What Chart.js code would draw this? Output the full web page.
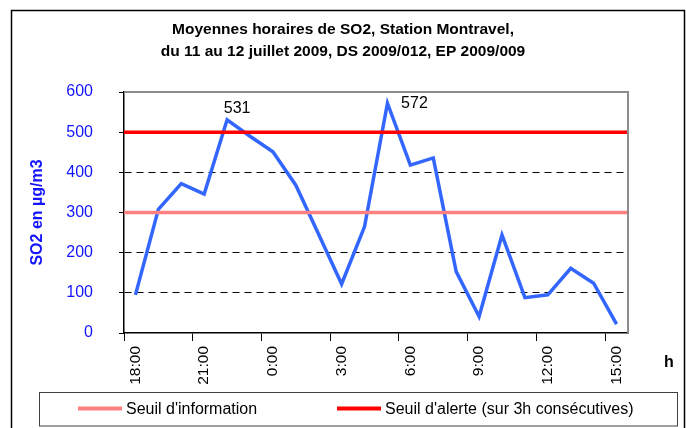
<!DOCTYPE html>
<html>
<head>
<meta charset="utf-8">
<script src="https://cdn.jsdelivr.net/npm/chart.js@4/dist/chart.umd.min.js"></script>
<style>
  html, body { margin: 0; padding: 0; background: #fff; }
  canvas { display: block; }
</style>
</head>
<body>
<canvas id="ch" width="686" height="428"></canvas>
<script>
// SO2 hourly averages, Montravel station — 11/12 July 2009
const hours = ['18:00', '19:00', '20:00', '21:00', '22:00', '23:00', '0:00', '1:00', '2:00', '3:00', '4:00',
               '5:00', '6:00', '7:00', '8:00', '9:00', '10:00', '11:00', '12:00', '13:00', '14:00', '15:00'];
const so2 = [95, 308, 372, 346, 531, 490, 451, 368, 245, 122, 265, 572, 418, 436, 153, 41, 244, 88, 95, 161, 124, 22];
const seuilInfo = 300;
const seuilAlerte = 500;
const yTicks = [0, 100, 200, 300, 400, 500, 600];
const annotated = [4, 11];   // peaks that carry their value

const FONT = "'Liberation Sans', Arial, sans-serif";
const BLUE_TXT = '#1414ff';

// extras: frame, plot border, value labels, "h", legend box
const extras = {
    id: 'extras',
    afterDraw(chart) {
        const { ctx, chartArea: a } = chart;
        ctx.save();

        // outer frame
        ctx.strokeStyle = '#000';
        ctx.lineWidth = 1.5;
        ctx.strokeRect(11.5, 10.5, 673, 440);

        // grey top / right plot border
        ctx.strokeStyle = '#8c8c8c';
        ctx.lineWidth = 2;
        ctx.beginPath();
        ctx.moveTo(a.left, a.top);
        ctx.lineTo(a.right, a.top);
        ctx.lineTo(a.right, a.bottom);
        ctx.stroke();

        // values on the peaks
        const meta = chart.getDatasetMeta(2);
        ctx.fillStyle = '#000';
        ctx.font = `16px ${FONT}`;
        ctx.textAlign = 'center';
        ctx.textBaseline = 'middle';
        const offs = { 4: [10, -11], 11: [27, 0] };
        annotated.forEach(i => {
            const p = meta.data[i];
            const [dx, dy] = offs[i] || [0, -12];
            ctx.fillText(String(so2[i]), p.x + dx, p.y + dy);
        });

        // axis unit
        ctx.font = `bold 16px ${FONT}`;
        ctx.fillText('h', a.right + 41, a.bottom + 30);

        // legend
        ctx.strokeStyle = '#404040';
        ctx.lineWidth = 1;
        ctx.strokeRect(39.5, 392.5, 638, 33.5);
        ctx.font = `16px ${FONT}`;
        ctx.textAlign = 'left';
        const items = [[78, chart.data.datasets[0]], [337, chart.data.datasets[1]]];
        items.forEach(([x, ds]) => {
            ctx.strokeStyle = ds.borderColor;
            ctx.lineWidth = 4;
            ctx.beginPath();
            ctx.moveTo(x, 408.5);
            ctx.lineTo(x + 44, 408.5);
            ctx.stroke();
            ctx.fillText(ds.label, x + 48, 409.5);
        });
        ctx.restore();
    }
};

const thr = v => [{ x: 0, y: v }, { x: 1, y: v }];

new Chart(document.getElementById('ch'), {
    type: 'line',
    data: {
        labels: hours,
        datasets: [
            { label: "Seuil d'information", data: thr(seuilInfo), xAxisID: 'x2', borderColor: '#ff8080',
              borderWidth: 3.5, pointRadius: 0, order: 0 },
            { label: "Seuil d'alerte (sur 3h consécutives)", data: thr(seuilAlerte), xAxisID: 'x2', borderColor: '#ff0000',
              borderWidth: 3.5, pointRadius: 0, order: 0 },
            { label: 'SO2', data: so2, borderColor: '#3366ff', borderWidth: 3.5, pointRadius: 0,
              tension: 0, borderJoinStyle: 'miter', order: 1 }
        ]
    },
    options: {
        responsive: false,
        animation: false,
        layout: { padding: 0 },
        plugins: {
            legend: { display: false },
            tooltip: { enabled: false },
            title: {
                display: true,
                text: ['Moyennes horaires de SO2, Station Montravel,', 'du 11 au 12 juillet 2009, DS 2009/012, EP 2009/009'],
                color: '#000',
                font: { family: FONT, size: 15.5, weight: 'bold', lineHeight: 1.42 },
                padding: { top: 19, bottom: 29 }
            }
        },
        scales: {
            x: {
                offset: true,
                afterFit: s => { s.height = 95; },
                grid: {
                    offset: true,
                    drawOnChartArea: false,
                    tickLength: 8,
                    color: c => (c.index % 3 === 0 ? '#000' : 'rgba(0,0,0,0)'),
                    tickColor: c => (c.index % 3 === 0 ? '#000' : 'rgba(0,0,0,0)')
                },
                border: { color: '#000', width: 1.5 },
                ticks: {
                    autoSkip: false,
                    maxRotation: 90,
                    minRotation: 90,
                    padding: 5,
                    color: '#000',
                    font: { family: FONT, size: 15.5 },
                    callback: function (v, i) { return i % 3 === 0 ? this.getLabelForValue(v) : ''; }
                }
            },
            x2: { type: 'linear', min: 0, max: 1, display: false },
            y: {
                min: 0,
                max: 600,
                afterFit: s => { s.width = 124; },
                afterBuildTicks: s => { s.ticks = yTicks.map(v => ({ value: v })); },
                grid: {
                    tickLength: 5,
                    tickColor: '#000',
                    color: c => ([100, 200, 400].includes(c.tick && c.tick.value) ? '#000' : 'rgba(0,0,0,0)')
                },
                border: { color: '#000', width: 1.5, dash: c => (c.tick ? [7, 5] : []) },
                ticks: { padding: 26, color: BLUE_TXT, font: { family: FONT, size: 16 } },
                title: {
                    display: true,
                    text: 'SO2 en µg/m3',
                    color: BLUE_TXT,
                    font: { family: FONT, size: 16, weight: 'bold' },
                    padding: { top: 28 }
                }
            },
            yPad: {
                position: 'right',
                afterFit: s => { s.width = 58; },
                grid: { display: false },
                border: { display: false },
                ticks: { display: false }
            }
        }
    },
    plugins: [extras]
});
</script>
</body>
</html>
